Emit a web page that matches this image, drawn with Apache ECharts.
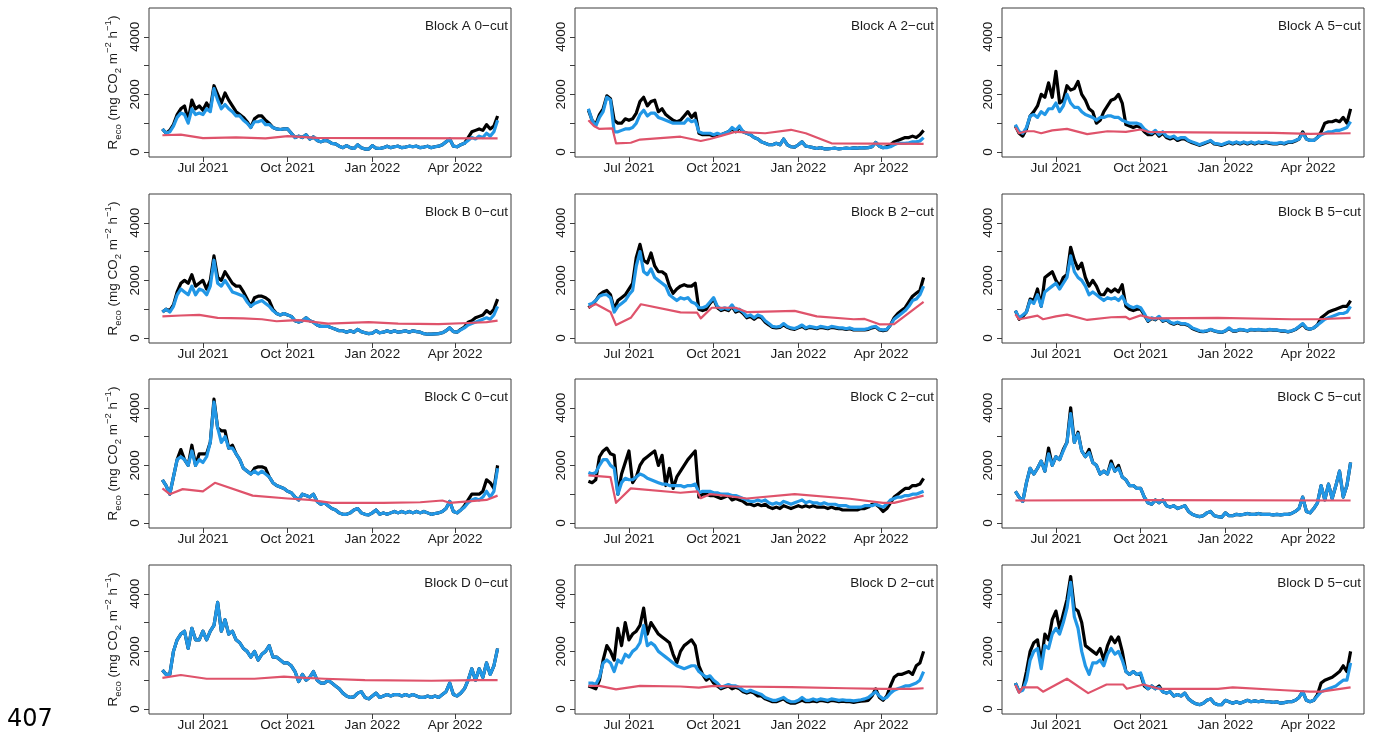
<!DOCTYPE html>
<html>
<head>
<meta charset="utf-8">
<script src="https://cdn.jsdelivr.net/npm/echarts@6/dist/echarts.min.js"></script>
<style>
  html, body { margin: 0; padding: 0; background: #ffffff; }
  #chart { width: 1377px; height: 733px; }
</style>
</head>
<body>
<div id="chart"></div>
<script>
// Continuous series are sampled every 4 days, 18 May 2021 .. 17 May 2022 (92 samples)
const sampleStart = '2021-05-18';
const sampleStepDays = 4;
const sampleCount = 92;

const xTickDates = ['2021-07-01', '2021-10-01', '2022-01-01', '2022-04-01'];
const xTickLabels = ['Jul 2021', 'Oct 2021', 'Jan 2022', 'Apr 2022'];
const yTickValues = [0, 1000, 2000, 3000, 4000];
const yLabelValues = [0, 2000, 4000];

const panelTitles = [
  'Block A 0\u2212cut', 'Block A 2\u2212cut', 'Block A 5\u2212cut',
  'Block B 0\u2212cut', 'Block B 2\u2212cut', 'Block B 5\u2212cut',
  'Block C 0\u2212cut', 'Block C 2\u2212cut', 'Block C 5\u2212cut',
  'Block D 0\u2212cut', 'Block D 2\u2212cut', 'Block D 5\u2212cut'
];

// ---- Block A ----
const obsA0 = [800,650,750,950,1300,1500,1600,1100,1800,1500,
  1600,1450,1700,1500,2300,2000,1700,2050,1800,1600,
  1400,1300,1200,1050,850,1150,1250,1250,1100,1000,
  850,800,780,800,800,650,500,550,500,600,
  450,520,400,350,400,380,300,280,200,150,
  220,150,120,250,150,100,100,220,130,120,
  150,200,150,180,200,150,170,200,180,200,
  150,170,200,150,180,200,250,350,450,200,
  180,250,300,500,700,750,800,750,950,800,
  900,1250];
const fitA0 = [800,650,700,900,1200,1350,1300,1000,1500,1300,
  1350,1300,1500,1400,2200,1800,1500,1650,1500,1400,
  1250,1250,1100,1000,850,1050,1050,1100,950,950,
  850,800,780,800,800,650,500,550,500,600,
  450,520,400,350,400,380,300,280,200,150,
  220,150,120,250,150,100,100,220,130,120,
  150,200,150,180,200,150,170,200,180,200,
  150,170,200,150,180,200,250,350,450,200,
  180,250,300,400,500,450,550,500,650,550,
  700,1100];
const altA0 = [['2021-05-18',580],['2021-06-07',600],['2021-07-01',480],['2021-08-06',510],
  ['2021-09-07',470],['2021-10-01',550],['2021-11-02',490],['2022-01-13',480],['2022-05-17',470]];

const obsA2 = [1450,1100,950,1300,1500,1950,1850,1100,1000,1000,
  1150,1100,1150,1350,1750,1900,1600,1750,1800,1400,
  1500,1300,1200,1100,1050,1100,1250,1400,1200,1350,
  650,600,600,600,550,600,600,650,700,800,
  700,850,700,650,600,500,450,350,300,250,
  250,300,250,450,250,180,170,250,350,200,
  180,150,120,150,110,110,120,130,110,120,
  130,120,140,130,150,140,150,180,330,200,
  150,180,250,350,400,450,500,500,550,500,
  600,750];
const fitA2 = [1500,1100,900,1200,1400,1900,1800,700,700,750,
  800,800,850,1000,1300,1450,1250,1350,1350,1200,
  1150,1100,1050,1000,1000,1000,1000,1150,1050,1100,
  700,650,650,650,600,650,600,650,700,850,
  750,900,700,650,600,500,450,350,300,250,
  250,300,250,450,250,180,170,250,350,200,
  180,150,120,150,110,110,120,130,110,120,
  130,120,140,130,150,140,150,180,330,200,
  150,150,180,250,300,300,300,320,350,350,
  380,500];
const altA2 = [['2021-05-18',1100],['2021-05-24',900],['2021-05-30',800],['2021-06-13',820],
  ['2021-06-17',300],['2021-07-03',320],['2021-07-13',430],['2021-08-26',530],['2021-09-17',380],
  ['2021-09-27',450],['2021-10-09',560],['2021-10-25',700],['2021-11-26',650],['2021-12-24',770],
  ['2022-01-09',650],['2022-02-06',300],['2022-05-17',280]];

const obsA5 = [900,650,550,800,1250,1400,1600,2000,1900,2400,
  1900,2800,1700,1800,2300,2150,2200,2450,2000,1800,
  1500,1400,1000,1100,1400,1600,1800,1850,2000,1700,
  950,900,850,900,850,700,600,600,700,550,
  650,500,450,500,400,450,450,380,320,280,
  230,280,330,380,280,260,230,280,330,280,
  330,280,330,280,330,280,330,300,330,300,
  280,280,310,280,330,330,380,450,700,450,
  400,400,500,700,1000,1050,1050,1100,1050,1200,
  1000,1500];
const fitA5 = [950,700,650,850,1250,1300,1200,1400,1300,1500,
  1500,1700,1400,1600,2000,1700,1550,1550,1400,1300,
  1250,1200,1100,1200,1200,1250,1250,1200,1200,1100,
  1050,1000,1000,1000,950,800,700,650,750,600,
  700,550,500,550,450,500,500,400,350,300,
  250,300,350,400,300,280,250,300,350,300,
  350,300,350,300,350,300,350,320,350,320,
  300,300,330,300,350,350,400,450,650,450,
  400,400,500,600,650,700,700,750,750,800,
  850,1050];
const altA5 = [['2021-05-18',850],['2021-05-22',650],['2021-05-30',720],['2021-06-07',720],
  ['2021-06-15',650],['2021-06-27',750],['2021-07-13',800],['2021-08-04',620],['2021-08-26',720],
  ['2021-09-15',700],['2021-10-01',780],['2021-10-09',700],['2021-11-26',680],['2022-02-22',660],
  ['2022-04-03',630],['2022-05-17',650]];

// ---- Block B ----
const obsB0 = [900,1000,950,1150,1600,1900,2000,1900,2200,1800,
  1900,2000,1700,2000,2850,2100,2000,2300,2100,1900,
  1800,1800,1600,1350,1100,1400,1450,1450,1400,1300,
  1000,850,800,850,800,750,600,550,600,700,
  600,550,450,400,400,400,350,300,250,250,
  200,250,200,300,220,180,150,170,250,180,
  200,250,200,250,200,220,250,200,250,220,
  200,150,130,130,140,150,180,250,350,220,
  200,300,380,550,600,700,750,800,950,850,
  1000,1350];
const fitB0 = [900,1000,900,1100,1500,1700,1600,1500,1800,1500,
  1700,1650,1500,1800,2700,1900,1800,2000,1800,1600,
  1550,1500,1450,1250,1100,1200,1250,1300,1200,1100,
  950,850,800,850,800,750,600,550,600,700,
  600,550,450,400,400,400,350,300,250,250,
  200,250,200,300,220,180,150,170,250,180,
  200,250,200,250,200,220,250,200,250,220,
  200,150,130,130,140,150,180,250,350,220,
  200,280,350,450,500,550,600,650,700,650,
  800,1100];
const altB0 = [['2021-05-18',750],['2021-06-07',780],['2021-06-27',800],['2021-07-17',700],
  ['2021-08-14',680],['2021-09-03',650],['2021-09-19',580],['2021-10-01',600],['2021-10-13',620],
  ['2021-11-14',500],['2021-12-28',550],['2022-01-29',500],['2022-03-14',480],['2022-04-15',520],
  ['2022-05-05',550],['2022-05-17',600]];

const obsB2 = [1050,1150,1300,1500,1600,1650,1500,1000,1300,1400,
  1500,1700,1900,2800,3250,2700,2600,2950,2500,2300,
  2300,2200,1800,1550,1700,1800,1850,1800,1800,1900,
  1000,950,1000,1200,1350,1050,950,1000,950,1100,
  900,950,850,700,750,650,750,700,550,450,
  370,350,370,450,370,320,300,350,400,320,
  370,350,320,370,350,320,370,350,320,320,
  300,320,280,280,280,280,300,350,380,280,
  250,280,450,700,850,950,1050,1250,1450,1550,
  1650,2100];
const fitB2 = [1150,1200,1300,1450,1500,1500,1400,900,1100,1200,
  1300,1500,1650,2500,3000,2300,2200,2400,2100,2000,
  1900,1800,1500,1400,1300,1400,1350,1400,1250,1200,
  1050,1050,1100,1250,1400,1100,1000,1050,1000,1150,
  950,1000,900,750,800,700,800,750,600,500,
  400,380,400,500,400,350,330,380,450,350,
  400,380,350,400,380,350,400,380,350,350,
  320,350,300,300,300,300,330,380,400,300,
  280,300,450,650,750,850,950,1100,1300,1350,
  1500,1800];
const altB2 = [['2021-05-18',1050],['2021-05-26',1180],['2021-06-11',900],['2021-06-17',450],
  ['2021-07-03',700],['2021-07-14',1170],['2021-08-26',890],['2021-09-13',880],['2021-09-17',680],
  ['2021-09-29',1050],['2021-10-25',1050],['2021-11-06',900],['2021-12-28',940],['2022-01-21',750],
  ['2022-03-02',650],['2022-03-14',660],['2022-03-30',475],['2022-04-15',480],['2022-05-17',1250]];

const obsB5 = [950,650,750,900,1350,1300,1700,1100,2100,2200,
  2300,2000,1800,2100,2200,3150,2700,2400,2600,2100,
  1800,2000,1800,1500,1500,1700,1600,1700,1600,1850,
  1100,1000,950,1000,1000,800,580,680,630,730,
  580,630,530,480,530,480,480,430,330,280,
  230,220,240,290,240,210,190,240,330,240,
  240,290,270,240,290,270,290,270,260,290,
  270,270,240,240,210,240,290,380,480,330,
  300,350,450,700,800,900,950,1000,1050,1100,
  1100,1300];
const fitB5 = [950,700,800,900,1300,1200,1500,1100,1600,1700,
  1800,1900,1700,1900,2100,2850,2300,2100,2000,1800,
  1500,1600,1500,1400,1300,1400,1350,1400,1300,1450,
  1200,1100,1050,1100,1050,850,600,700,650,750,
  600,650,550,500,550,500,500,450,350,300,
  250,230,250,300,250,220,200,250,350,250,
  250,300,280,250,300,280,300,280,270,300,
  280,280,250,250,220,250,300,400,500,350,
  300,350,450,550,650,700,750,800,850,850,
  900,1100];
const altB5 = [['2021-05-18',820],['2021-05-22',650],['2021-05-30',700],['2021-06-11',775],
  ['2021-06-17',650],['2021-07-01',750],['2021-07-13',810],['2021-08-04',625],['2021-08-30',720],
  ['2021-09-15',730],['2021-09-19',650],['2021-10-01',785],['2021-10-13',680],['2021-12-24',700],
  ['2022-03-14',650],['2022-04-11',650],['2022-05-17',700]];

// ---- Block C ----
const obsC0 = [1500,1300,1000,1600,2200,2550,2200,2000,2700,2000,
  2400,2400,2400,2800,4300,3300,3200,3200,2600,2700,
  2400,2200,1900,1800,1700,1900,1950,1950,1900,1600,
  1400,1300,1250,1200,1100,1050,900,800,1000,950,
  900,1000,750,650,700,600,500,450,350,300,
  300,350,450,500,350,300,280,350,450,300,
  350,300,350,400,350,400,350,400,350,400,
  350,400,350,300,330,350,400,500,750,400,
  350,450,600,800,1000,1000,1000,1100,1500,1400,
  1200,2000];
const fitC0 = [1500,1300,1000,1600,2200,2300,2200,2000,2500,2000,
  2200,2100,2300,2800,4200,3300,2800,3000,2600,2600,
  2400,2200,1900,1800,1700,1800,1700,1800,1700,1600,
  1400,1300,1250,1200,1100,1050,900,800,1000,950,
  900,1000,750,650,700,600,500,450,350,300,
  300,350,450,500,350,300,280,350,450,300,
  350,300,350,400,350,400,350,400,350,400,
  350,400,350,300,330,350,400,500,750,400,
  350,450,550,700,800,850,800,900,1100,900,
  1100,1900];
const altC0 = [['2021-05-18',1200],['2021-05-26',1000],['2021-06-09',1175],['2021-07-01',1100],
  ['2021-07-03',1080],['2021-07-14',1395],['2021-08-24',950],['2021-10-01',850],['2021-10-25',800],
  ['2021-11-18',700],['2022-01-13',700],['2022-02-22',720],['2022-03-18',780],['2022-03-26',700],
  ['2022-04-15',750],['2022-05-05',800],['2022-05-17',950]];

const obsC2 = [1450,1400,1500,2300,2500,2600,2400,2350,1000,1700,
  2100,2500,1400,1600,2000,2200,2300,2400,2500,2000,
  2350,1300,1900,1200,1600,1800,2000,2200,2350,2500,
  900,1000,1000,950,950,900,850,900,950,800,
  850,800,750,650,650,600,650,600,650,550,
  500,550,500,600,550,500,550,600,550,600,
  550,600,550,550,550,500,550,500,500,450,
  450,450,450,450,500,500,550,650,650,550,
  400,500,700,900,1000,1100,1200,1200,1300,1300,
  1350,1550];
const fitC2 = [1750,1700,1750,2000,2200,2200,2000,1900,1000,1400,
  1550,1500,1500,1600,1700,1650,1550,1500,1450,1400,
  1350,1350,1300,1300,1300,1300,1250,1300,1300,1350,
  1050,1100,1100,1100,1050,1050,1000,1000,1000,950,
  950,900,850,800,750,750,800,750,800,700,
  650,700,650,750,700,650,700,750,800,700,
  750,700,700,650,700,650,650,650,600,600,
  600,550,550,550,550,600,600,600,650,600,
  550,650,800,850,900,900,950,950,1000,1000,
  1050,1100];
const altC2 = [['2021-05-18',1650],['2021-06-11',1590],['2021-06-17',700],['2021-07-03',1200],
  ['2021-08-26',1050],['2021-09-13',1100],['2021-09-17',860],['2021-09-27',1000],['2021-10-13',950],
  ['2021-11-06',850],['2021-12-28',1000],['2022-02-26',840],['2022-04-03',700],['2022-04-15',700],
  ['2022-05-17',950]];

const obsC5 = [1100,900,750,1400,1900,1700,1900,2150,1800,2600,
  2000,2300,2200,2550,2800,4000,2800,3150,2500,2300,
  2550,2100,2000,1700,1800,1700,2150,1800,2000,1600,
  1500,1300,1300,1200,1200,900,700,650,800,700,
  800,600,550,600,500,550,600,400,300,250,
  220,250,350,400,250,220,200,350,250,250,
  300,280,300,330,300,300,330,300,300,300,
  280,300,280,300,300,330,400,500,900,400,
  350,500,700,1300,800,1350,850,1300,1800,900,
  1300,2100];
const fitC5 = [1100,900,750,1400,1900,1700,1900,2150,1800,2400,
  2000,2300,2200,2500,2800,3800,2800,3100,2500,2300,
  2450,2100,2000,1700,1800,1700,2050,1800,1900,1600,
  1500,1300,1300,1200,1200,900,700,650,800,700,
  800,600,550,600,500,550,600,400,300,250,
  220,250,350,400,250,220,200,350,250,250,
  300,280,300,330,300,300,330,300,300,300,
  280,300,280,300,300,330,400,500,900,400,
  350,500,700,1300,800,1350,850,1300,1800,900,
  1300,2100];
const altC5 = [['2021-05-18',780],['2021-10-01',790],['2022-05-17',780]];

// ---- Block D ----
const obsD0 = [1350,1200,1200,2000,2400,2600,2700,2100,2800,2400,
  2400,2700,2400,2700,2900,3700,2700,3100,2600,2700,
  2400,2300,2100,2000,1800,2000,1700,1900,2000,2200,
  1800,1800,1700,1600,1600,1500,1300,950,1200,1000,
  1100,1300,1000,900,900,1000,900,800,700,550,
  450,400,420,550,600,400,350,450,550,400,
  450,500,450,500,500,450,500,450,500,450,
  400,400,450,400,450,400,500,600,900,500,
  450,550,700,1000,1400,1000,1400,1100,1600,1200,
  1500,2100];
const fitD0 = [1350,1200,1200,2000,2400,2600,2700,2100,2800,2400,
  2400,2700,2400,2700,2900,3700,2700,3100,2600,2700,
  2400,2300,2100,2000,1800,2000,1700,1900,2000,2200,
  1800,1800,1700,1600,1600,1500,1300,950,1200,1000,
  1100,1300,1000,900,900,1000,900,800,700,550,
  450,400,420,550,600,400,350,450,550,400,
  450,500,450,500,500,450,500,450,500,450,
  400,400,450,400,450,400,500,600,900,500,
  450,550,700,1000,1400,1000,1400,1100,1600,1200,
  1500,2100];
const altD0 = [['2021-05-18',1080],['2021-06-07',1180],['2021-07-05',1050],['2021-08-26',1050],
  ['2021-09-27',1120],['2021-10-09',1100],['2021-11-10',1050],['2021-12-24',1000],['2022-03-06',980],
  ['2022-04-23',1000],['2022-05-17',1000]];

const obsD2 = [800,750,700,1000,1700,2200,2000,1700,2800,2200,
  3000,2400,2600,2700,2900,3500,2600,3000,2800,2600,
  2500,2400,2300,1900,1600,2000,2200,2300,2400,2200,
  1500,1200,1000,1100,900,800,700,750,800,700,
  750,700,600,550,600,550,450,450,350,300,
  250,250,300,350,250,200,200,250,300,250,
  250,280,250,300,280,250,300,280,250,270,
  250,250,230,250,270,280,300,450,700,400,
  300,450,800,1100,1200,1200,1250,1300,1200,1500,
  1600,2000];
const fitD2 = [900,900,850,1100,1600,1700,1600,1300,1700,1600,
  1900,1800,2000,2100,2300,2900,2200,2300,2200,2000,
  1900,1800,1700,1600,1500,1450,1400,1450,1500,1500,
  1300,1200,1100,1150,1000,900,750,800,850,800,
  800,750,650,600,650,600,550,500,400,350,
  300,300,350,400,300,250,250,300,400,300,
  300,350,300,350,330,300,350,330,300,320,
  300,300,280,300,320,350,400,500,600,450,
  350,400,550,650,700,750,800,800,850,900,
  1000,1300];
const altD2 = [['2021-05-18',800],['2021-05-30',800],['2021-06-17',680],['2021-07-13',800],
  ['2021-08-26',780],['2021-09-15',740],['2021-10-01',800],['2021-10-25',780],['2021-12-24',760],
  ['2022-02-22',720],['2022-04-03',700],['2022-05-05',700],['2022-05-17',720]];

const obsD5 = [900,600,700,1300,2000,2300,2400,1600,2600,2400,
  3100,3400,2800,3300,3800,4600,3500,3400,3000,2200,
  2100,2000,1900,2100,1700,2200,2500,2300,2500,2000,
  1300,1200,1300,1200,1200,800,700,800,700,800,
  600,550,600,450,500,450,550,350,250,180,
  150,200,300,350,200,150,150,300,250,200,
  250,200,250,300,250,280,250,280,250,250,
  230,250,200,220,250,250,300,400,600,300,
  250,300,500,900,1000,1050,1100,1200,1300,1500,
  1300,2000];
const fitD5 = [900,600,650,1000,1700,2000,2100,1400,2200,2100,
  2600,2800,2600,3000,3500,4400,3200,2800,2000,1500,
  1200,1600,1600,1700,1500,1900,2100,1900,2000,1700,
  1300,1200,1300,1200,1250,850,700,800,700,750,
  600,550,600,450,500,450,550,350,250,180,
  150,200,300,350,200,150,150,300,250,200,
  250,200,250,300,250,280,250,280,250,250,
  230,250,200,220,250,250,300,400,600,300,
  250,300,450,600,650,700,750,800,900,1000,
  1000,1600];
const altD5 = [['2021-05-18',830],['2021-05-22',560],['2021-05-26',750],['2021-06-11',750],
  ['2021-06-17',600],['2021-07-13',1050],['2021-08-05',550],['2021-08-25',850],['2021-09-12',850],
  ['2021-09-16',700],['2021-10-04',850],['2021-10-21',700],['2021-12-24',700],['2022-01-09',750],
  ['2022-03-06',650],['2022-04-03',600],['2022-04-15',600],['2022-05-17',750]];

// Panels in reading order (rows: blocks A..D, columns: 0-, 2-, 5-cut)
const obsSeries = [obsA0, obsA2, obsA5, obsB0, obsB2, obsB5, obsC0, obsC2, obsC5, obsD0, obsD2, obsD5];
const fitSeries = [fitA0, fitA2, fitA5, fitB0, fitB2, fitB5, fitC0, fitC2, fitC5, fitD0, fitD2, fitD5];
const altSeries = [altA0, altA2, altA5, altB0, altB2, altB5, altC0, altC2, altC5, altD0, altD2, altD5];

// ---------- layout & styling ----------
const DAY = 86400000;
const toTs = s => Date.parse(s + 'T00:00:00Z');
const sampleTs = [];
for (let i = 0; i < sampleCount; i++) sampleTs.push(toTs(sampleStart) + i * sampleStepDays * DAY);
const dataMin = sampleTs[0], dataMax = sampleTs[sampleTs.length - 1];
const pad = (dataMax - dataMin) * 0.04;
const xMin = dataMin - pad, xMax = dataMax + pad;
const xTickTs = xTickDates.map(toTs);

const colLeft = [149, 575, 1002];
const rowTop = [8, 194, 379, 565];
const boxW = 362, boxH = 149;
const FONT = '"Liberation Sans", Arial, Helvetica, sans-serif';
const INK = '#1a1a1a';
const FRAME = '#3c3c3c';
const C_OBS = '#000000', C_FIT = '#2297E6', C_ALT = '#DF536B';

const grids = [], xAxes = [], yAxes = [], series = [], graphics = [];

panelTitles.forEach((title, p) => {
  const r = Math.floor(p / 3), c = p % 3;
  const left = colLeft[c], top = rowTop[r];
  grids.push({ left, top, width: boxW, height: boxH, show: true,
    borderColor: FRAME, borderWidth: 1, backgroundColor: 'transparent' });
  xAxes.push({
    gridIndex: p, type: 'value', min: xMin, max: xMax,
    axisLine: { show: false, onZero: false },
    axisTick: { show: true, length: 5, customValues: xTickTs, lineStyle: { color: FRAME, width: 1 } },
    axisLabel: { customValues: xTickTs, margin: 4, fontSize: 13.5, fontFamily: FONT, color: INK,
      formatter: v => { const k = xTickTs.findIndex(t => Math.abs(t - v) < DAY / 2); return k >= 0 ? xTickLabels[k] : ''; } },
    splitLine: { show: false }
  });
  yAxes.push({
    gridIndex: p, type: 'value', min: -175, max: 5000,
    axisLine: { show: false, onZero: false },
    axisTick: { show: true, length: 5, customValues: yTickValues, lineStyle: { color: FRAME, width: 1 } },
    axisLabel: { customValues: yLabelValues, rotate: 90, margin: 7, fontSize: 13.5, fontFamily: FONT, color: INK,
      formatter: v => String(Math.round(v)) },
    splitLine: { show: false }
  });
  const common = { type: 'line', xAxisIndex: p, yAxisIndex: p, showSymbol: false, symbol: 'none',
    silent: true, animation: false, clip: true };
  series.push(Object.assign({}, common, {
    data: obsSeries[p].map((v, i) => [sampleTs[i], v]),
    lineStyle: { color: C_OBS, width: 3.2, join: 'round' }, z: 2 }));
  series.push(Object.assign({}, common, {
    data: fitSeries[p].map((v, i) => [sampleTs[i], v]),
    lineStyle: { color: C_FIT, width: 3.2, join: 'round' }, z: 3 }));
  series.push(Object.assign({}, common, {
    data: altSeries[p].map(d => [toTs(d[0]), d[1]]),
    lineStyle: { color: C_ALT, width: 2.2, join: 'round' }, z: 4 }));

  // block / treatment label inside the top-right corner
  graphics.push({ type: 'text', x: left + boxW - 3, y: top + 18.5, z: 10, silent: true,
    style: { text: title, fill: INK, font: '13.5px ' + FONT, align: 'right', verticalAlign: 'middle' } });

  // y-axis title on the left column only
  if (c === 0) {
    graphics.push({ type: 'text', x: 113, y: top + boxH / 2, rotation: Math.PI / 2, z: 10, silent: true,
      style: {
        text: '{n|R}{sb|eco}{n| (mg CO}{sb|2}{n| m}{sp|\u22122}{n| h}{sp|\u22121}{n|)}',
        align: 'center', verticalAlign: 'middle', fill: INK,
        rich: {
          n: { fontSize: 13.5, fontFamily: FONT, lineHeight: 20, fill: INK },
          sb: { fontSize: 9.5, fontFamily: FONT, lineHeight: 12, verticalAlign: 'bottom', fill: INK },
          sp: { fontSize: 9.5, fontFamily: FONT, lineHeight: 10, verticalAlign: 'top', fill: INK }
        }
      } });
  }
});

// page number at the lower-left corner
graphics.push({ type: 'text', x: 7, y: 720, silent: true,
  style: { text: '407', fill: '#000', font: '24px "DejaVu Sans", sans-serif', align: 'left', verticalAlign: 'middle' } });

const chart = echarts.init(document.getElementById('chart'), null, { renderer: 'canvas' });
chart.setOption({
  animation: false,
  backgroundColor: '#ffffff',
  grid: grids, xAxis: xAxes, yAxis: yAxes, series: series, graphic: graphics
});
</script>
</body>
</html>
